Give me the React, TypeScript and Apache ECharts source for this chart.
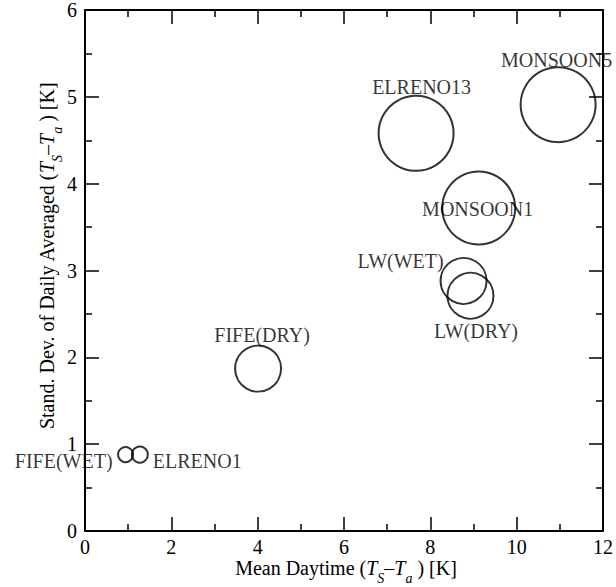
import React, { useEffect, useRef } from "react";
import * as echarts from "echarts";

const siteNames = ["FIFE(WET)", "ELRENO1", "FIFE(DRY)", "ELRENO13", "MONSOON5", "MONSOON1", "LW(WET)", "LW(DRY)"];
const meanDaytime = [0.94, 1.27, 4.01, 7.67, 10.96, 9.12, 8.77, 8.93];
const stdDevDaily = [0.88, 0.88, 1.87, 4.58, 4.91, 3.72, 2.88, 2.71];
const bubbleSize = [15, 16, 46, 75, 75, 73, 46, 46];
const xTicks = { min: 0, max: 12, interval: 2 };
const yTicks = { min: 0, max: 6, interval: 1 };

const FONT = '"Liberation Serif", "Times New Roman", serif';

// label placement (style only)
const labelStyles: Record<string, any> = {
  "FIFE(WET)": { position: "inside", align: "right", offset: [-13, 6.5] },
  "ELRENO1": { position: "inside", align: "left", offset: [13, 6.5] },
  "FIFE(DRY)": { position: "inside", offset: [4, -34] },
  "ELRENO13": { position: "inside", offset: [5.5, -46] },
  "MONSOON5": { position: "inside", offset: [-1.5, -44.5] },
  "MONSOON1": { position: "inside", offset: [-1, 1] },
  "LW(WET)": { position: "inside", offset: [-63, -20] },
  "LW(DRY)": { position: "inside", offset: [5.5, 35.5] },
};

const titleRich = {
  n: { fontSize: 20, fontFamily: FONT, color: "#000", verticalAlign: "middle" },
  i: { fontSize: 20, fontFamily: FONT, fontStyle: "italic", color: "#000", verticalAlign: "middle" },
  s: { fontSize: 14, fontFamily: FONT, fontStyle: "italic", color: "#000", verticalAlign: "bottom", lineHeight: 34 },
};

function makeAxis(kind: "x" | "y", position: string, showLabels: boolean, t: any) {
  return {
    type: "value",
    position,
    min: t.min,
    max: t.max,
    interval: t.interval,
    axisLine: { show: true, onZero: false, lineStyle: { color: "#000", width: 2 } },
    axisTick: { show: true, inside: true, length: 14, lineStyle: { color: "#000", width: 1.5 } },
    minorTick: { show: true, splitNumber: 2, length: 7, lineStyle: { color: "#000", width: 1.5 } },
    splitLine: { show: false },
    minorSplitLine: { show: false },
    axisLabel: {
      show: showLabels,
      fontSize: 20,
      fontFamily: FONT,
      color: "#000",
      margin: kind === "x" ? 6 : 8,
      showMinLabel: true,
      showMaxLabel: true,
    },
  };
}

export default function App() {
  const ref = useRef<HTMLDivElement>(null);
  useEffect(() => {
    if (!ref.current) return;
    const chart = echarts.init(ref.current, undefined, { renderer: "svg" });
    const data = siteNames.map((name, i) => ({
      name,
      value: [meanDaytime[i], stdDevDaily[i], bubbleSize[i]],
      label: {
        show: true,
        formatter: "{b}",
        fontSize: 20,
        fontFamily: FONT,
        color: "#000",
        ...labelStyles[name],
      },
    }));
    chart.setOption({
      animation: false,
      backgroundColor: "#fff",
      textStyle: { fontFamily: FONT },
      grid: { left: 85, right: 10, top: 9, bottom: 56, containLabel: false },
      xAxis: [makeAxis("x", "bottom", true, xTicks), makeAxis("x", "top", false, xTicks)],
      yAxis: [makeAxis("y", "left", true, yTicks), makeAxis("y", "right", false, yTicks)],
      series: [
        {
          type: "scatter",
          xAxisIndex: 0,
          yAxisIndex: 0,
          symbol: "circle",
          symbolSize: (v: number[]) => v[2],
          itemStyle: { color: "rgba(0,0,0,0)", borderColor: "#000", borderWidth: 2 },
          emphasis: { disabled: true },
          clip: false,
          data,
        },
      ],
      graphic: [
        {
          type: "text",
          x: 346,
          y: 568,
          style: {
            text: "{n|Mean Daytime (}{i|T}{s|S}{n|–}{i|T}{s|a}{n| ) [K]}",
            fontFamily: FONT,
            align: "center",
            verticalAlign: "middle",
            rich: titleRich,
          },
        },
        {
          type: "text",
          x: 47,
          y: 256,
          rotation: Math.PI / 2,
          style: {
            text: "{n|Stand. Dev. of Daily Averaged (}{i|T}{s|S}{n|–}{i|T}{s|a}{n| ) [K]}",
            fontFamily: FONT,
            align: "center",
            verticalAlign: "middle",
            rich: titleRich,
          },
        },
      ],
    });
    return () => chart.dispose();
  }, []);
  return (
    <div
      ref={ref}
      style={{ position: "absolute", left: 0, top: 0, width: 616, height: 587, background: "#fff" }}
    />
  );
}
